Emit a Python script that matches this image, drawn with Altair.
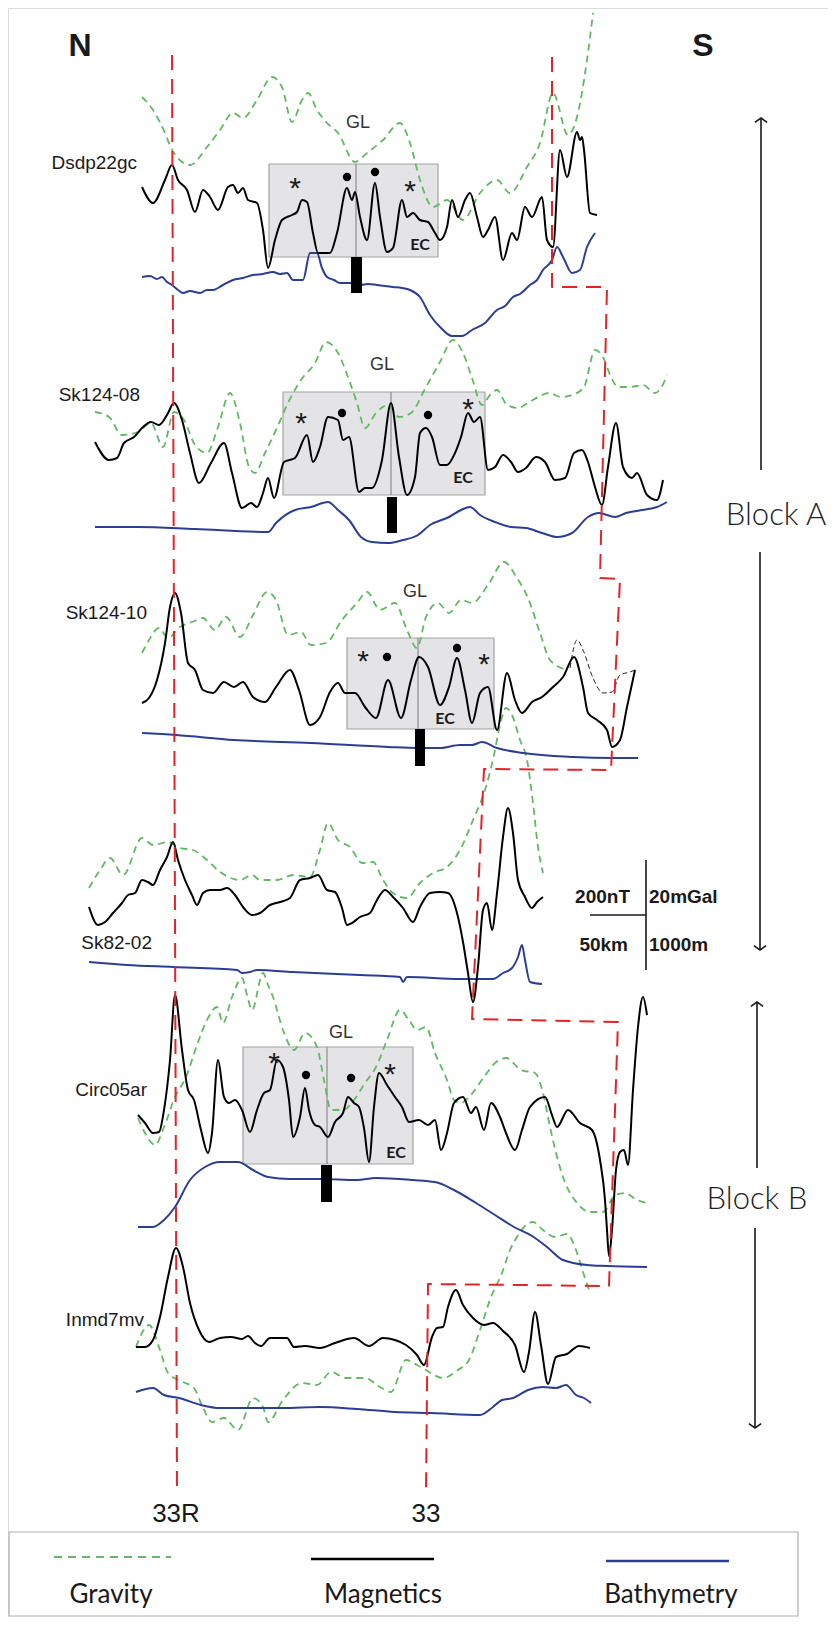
import altair as alt
import pandas as pd

# ------------------------------------------------------------------
# Profile traces: (distance along figure, anomaly)
# ------------------------------------------------------------------
P1_GRAV = [(142,97),(153,110),(165,133),(172,150),(190,165),(207,147),(220,130),(233,113),(243,118),
           (257,100),(272,77),(282,87),(292,122),(302,100),(308,93),(317,110),(327,123),(338,133),
           (355,162),(367,153),(383,140),(400,123),(410,143),(420,180),(433,207),(447,200),(463,220),
           (480,193),(497,180),(510,193),(527,167),(540,143),(553,93),(568,135),(577,117),(587,60),(593,13)]
P1_MAG = [(142,187),(153,203),(165,180),(172,165),(178,180),(187,190),(195,212),(203,190),(210,197),
          (218,210),(228,187),(233,185),(238,193),(243,188),(248,200),(257,203),(263,230),(268,268),
          (275,240),(282,220),(292,215),(297,212),(302,200),(307,202),(313,233),(318,253),(330,253),
          (337,233),(347,188),(352,200),(355,192),(360,217),(367,240),(375,183),(380,217),(387,252),
          (393,248),(402,200),(407,217),(413,213),(420,220),(428,222),(435,233),(440,240),(447,227),
          (452,200),(458,217),(465,200),(470,193),(477,217),(483,237),(488,230),(495,217),(503,260),
          (512,233),(517,240),(525,207),(532,217),(542,197),(547,240),(553,247),(560,150),(567,177),
          (577,132),(580,140),(582,137),(584,150),(590,213),(597,215)]
P1_BATH = [(142,277),(150,276),(157,279),(162,277),(167,282),(172,285),(178,290),(183,293),(190,291),
           (200,293),(207,290),(213,290),(223,285),(233,280),(243,278),(253,275),(263,274),(273,272),
           (280,274),(287,273),(293,280),(303,280),(310,253),(317,253),(322,268),(327,277),(334,280),
           (340,283),(350,283),(360,285),(368,284),(377,285),(385,286),(393,287),(402,288),(410,290),
           (420,297),(430,315),(441,328),(452,336),(462,336),(472,330),(485,323),(497,310),(505,306),
           (513,297),(520,294),(530,285),(537,280),(543,270),(552,260),(557,247),(563,257),(572,273),
           (580,270),(587,247),(595,233)]

P2_GRAV = [(95,412),(109,417),(122,435),(138,432),(151,423),(163,447),(174,412),(184,420),(195,445),
           (207,453),(218,427),(230,393),(240,423),(249,467),(255,473),(265,453),(276,430),(288,403),
           (301,380),(315,363),(326,342),(338,353),(349,380),(357,403),(365,428),(376,413),(388,405),
           (399,417),(411,413),(426,387),(440,362),(453,340),(463,353),(472,378),(482,405),(490,395),
           (497,390),(507,405),(518,408),(528,403),(538,397),(549,393),(561,397),(572,395),(584,387),
           (595,350),(603,357),(611,377),(618,387),(630,387),(643,385),(655,393),(661,388),(667,375)]
P2_MAG = [(95,442),(109,460),(117,458),(124,443),(134,437),(143,427),(151,422),(159,425),(167,415),
          (174,403),(182,420),(190,453),(199,483),(211,463),(224,443),(232,473),(242,508),(251,503),
          (257,507),(263,493),(268,478),(274,498),(284,462),(295,458),(307,435),(313,462),(320,447),
          (328,417),(338,420),(343,440),(349,437),(359,492),(365,488),(372,488),(382,460),(391,403),
          (399,457),(407,495),(415,477),(420,433),(426,428),(432,437),(440,465),(447,465),(455,453),
          (461,437),(468,413),(474,422),(480,417),(488,470),(495,467),(503,455),(511,462),(518,472),
          (526,468),(536,457),(545,462),(555,480),(565,478),(574,453),(582,450),(588,462),(595,487),
          (602,505),(608,467),(616,423),(623,467),(632,478),(637,473),(647,495),(657,500),(663,480)]
P2_BATH = [(95,527),(138,527),(195,529),(268,532),(276,523),(295,510),(311,507),(328,502),(338,510),
           (349,520),(361,537),(372,542),(388,543),(403,540),(418,535),(430,525),(449,517),(461,510),
           (470,507),(480,515),(495,522),(511,527),(526,528),(542,533),(557,537),(572,533),(588,517),
           (599,513),(615,517),(626,513),(642,510),(657,507),(667,502)]

P3_GRAV = [(142,653),(149,640),(159,628),(168,638),(180,627),(192,622),(203,618),(215,630),(226,617),
           (240,637),(253,615),(267,592),(276,600),(288,635),(301,632),(311,645),(326,643),(342,620),
           (357,603),(367,592),(380,610),(395,603),(407,630),(417,648),(426,617),(438,603),(449,613),
           (461,600),(472,603),(488,585),(504,562),(517,578),(528,598),(540,633),(550,660),(567,670)]
P3_MAG = [(142,703),(149,698),(157,680),(165,643),(170,607),(175,593),(181,613),(188,663),(195,670),
          (203,690),(213,693),(224,682),(234,687),(243,682),(253,697),(265,702),(276,687),(290,670),
          (299,690),(310,725),(320,717),(330,692),(338,683),(345,693),(355,693),(365,707),(376,718),
          (388,680),(401,718),(411,680),(419,657),(428,667),(440,705),(449,687),(457,658),(465,690),
          (472,723),(480,693),(488,687),(497,730),(507,673),(515,700),(522,713),(532,702),(542,697),
          (553,687),(563,677),(574,657),(583,687),(588,713),(597,720),(607,730),(612,747),(620,740),
          (627,707),(635,670)]
P3_MAG_ALT = [(570,668),(577,640),(583,650),(593,678),(603,693),(612,692),(620,675),(630,672),(635,670)]
P3_BATH = [(142,733),(176,735),(234,740),(311,743),(388,747),(418,748),(440,748),(460,745),(472,745),
           (482,742),(497,748),(523,753),(573,757),(613,758),(638,758)]

P4_GRAV = [(89,888),(100,870),(110,858),(123,875),(142,838),(153,845),(168,842),(180,848),(193,850),
           (207,860),(220,872),(240,880),(252,875),(260,880),(277,880),(293,875),(310,877),(320,850),
           (328,823),(338,840),(350,847),(362,863),(373,862),(383,880),(393,893),(407,898),(420,883),
           (433,873),(447,867),(460,850),(473,820),(485,790),(494,755),(500,725),(506,708),(512,715),
           (520,740),(527,760),(533,803),(538,847),(543,873)]
P4_MAG = [(89,907),(98,925),(105,922),(113,913),(122,903),(128,895),(135,893),(142,880),(148,882),
          (153,885),(160,870),(167,857),(173,842),(178,860),(185,880),(192,895),(197,905),(203,893),
          (210,890),(220,890),(227,888),(235,895),(243,907),(252,915),(260,913),(270,905),(280,902),
          (290,898),(300,880),(310,878),(318,875),(327,890),(335,892),(342,908),(347,925),(352,923),
          (360,917),(370,913),(377,900),(385,890),(393,897),(403,908),(413,922),(420,907),(430,893),
          (440,892),(448,893),(457,913),(463,942),(468,973),(473,1002),(478,967),(483,910),(487,903),
          (492,930),(497,893),(503,837),(508,808),(513,833),(518,880),(525,897),(532,908),(537,902),
          (543,897)]
P4_BATH = [(89,962),(127,965),(173,967),(237,970),(242,973),(250,972),(257,970),(293,972),(360,975),
           (400,977),(403,982),(407,977),(460,979),(493,979),(503,973),(512,968),(518,957),(522,945),
           (525,960),(530,982),(542,984)]

P5_GRAV = [(138,1118),(145,1133),(155,1145),(164,1127),(175,1097),(186,1077),(197,1045),(207,1020),
           (217,1007),(223,1023),(232,997),(242,978),(247,995),(252,1010),(263,973),(268,985),(273,997),
           (283,1030),(294,1050),(305,1033),(317,1047),(324,1080),(331,1110),(343,1110),(354,1100),
           (365,1083),(376,1067),(387,1040),(400,1010),(409,1020),(417,1030),(426,1027),(435,1053),
           (447,1080),(454,1100),(461,1103),(469,1097),(484,1077),(495,1063),(506,1058),(521,1070),
           (535,1073),(543,1093),(550,1127),(563,1177),(577,1203),(590,1212),(603,1212),(615,1195),
           (625,1193),(637,1200),(647,1203)]
P5_MAG = [(138,1115),(145,1123),(153,1133),(159,1132),(164,1110),(170,1060),(175,995),(182,1050),
          (188,1090),(194,1100),(201,1130),(208,1153),(212,1133),(218,1060),(224,1097),(229,1103),
          (235,1100),(242,1110),(250,1132),(257,1110),(264,1093),(270,1090),(277,1060),(283,1067),
          (289,1100),(293,1137),(300,1117),(305,1088),(309,1110),(315,1125),(320,1127),(328,1137),
          (335,1122),(343,1113),(348,1097),(354,1103),(359,1107),(364,1128),(369,1162),(374,1107),
          (379,1073),(387,1085),(395,1097),(402,1107),(409,1122),(419,1120),(428,1125),(435,1120),
          (441,1150),(447,1133),(454,1103),(463,1097),(471,1113),(476,1107),(484,1130),(491,1103),
          (500,1117),(506,1133),(515,1150),(522,1130),(530,1107),(545,1097),(552,1115),(557,1127),
          (568,1110),(580,1123),(592,1130),(600,1160),(605,1200),(607,1230),(609,1256),(612,1230),
          (616,1170),(620,1152),(624,1150),(628,1165),(633,1090),(638,1027),(643,997),(647,1015)]
P5_BATH = [(138,1227),(153,1227),(164,1220),(175,1207),(190,1180),(205,1167),(220,1162),(238,1162),
           (253,1170),(268,1177),(290,1179),(320,1179),(357,1180),(376,1178),(413,1180),(435,1182),
           (454,1190),(476,1203),(495,1215),(514,1227),(532,1236),(547,1247),(563,1260),(587,1265),
           (607,1266),(647,1267)]

P6_GRAV = [(136,1347),(149,1325),(160,1350),(168,1373),(183,1382),(194,1388),(201,1403),(212,1422),
           (224,1418),(238,1430),(253,1398),(263,1407),(268,1422),(283,1400),(302,1383),(317,1385),
           (331,1372),(346,1378),(365,1378),(380,1387),(391,1392),(406,1360),(417,1365),(426,1370),
           (443,1378),(458,1370),(469,1360),(480,1330),(491,1297),(502,1273),(510,1250),(517,1237),
           (526,1225),(533,1222),(543,1230),(555,1237),(567,1234),(576,1250),(583,1272),(590,1293)]
P6_MAG = [(136,1347),(145,1347),(153,1340),(160,1317),(168,1277),(176,1248),(183,1267),(190,1303),
          (199,1330),(209,1342),(220,1338),(231,1337),(242,1339),(248,1336),(255,1343),(261,1346),
          (270,1338),(279,1338),(287,1338),(294,1347),(305,1346),(320,1348),(335,1343),(354,1338),
          (369,1346),(383,1338),(395,1340),(406,1345),(417,1355),(424,1365),(432,1337),(437,1328),
          (443,1327),(448,1307),(456,1290),(463,1305),(473,1318),(484,1325),(493,1323),(503,1331),
          (515,1345),(524,1372),(529,1352),(535,1312),(541,1345),(548,1384),(556,1357),(567,1354),
          (579,1346),(590,1348)]
P6_BATH = [(136,1392),(153,1388),(164,1395),(179,1398),(201,1405),(220,1408),(283,1408),(320,1407),
           (357,1409),(395,1412),(432,1413),(480,1415),(493,1407),(502,1400),(513,1398),(528,1390),
           (543,1387),(556,1388),(566,1385),(576,1395),(584,1398),(591,1403)]

# chron picks (red dashed)
RED_33R = [(172,55),(177,1492)]
RED_33 = [(552,57),(552,287),(607,287),(600,578),(620,579),(611,770),(484,769),(472,1019),
          (618,1022),(609,1286),(428,1284),(426,1492)]

# profile names: (right edge, centre, text)
PROFILE_NAMES = [(137,163,"Dsdp22gc"),(140,395,"Sk124-08"),(147,613,"Sk124-10"),
                 (152,943,"Sk82-02"),(147,1090,"Circ05ar"),(144,1320,"Inmd7mv")]
# grey boxes: left, right, top, bottom, divider
BOXES = [(269,438,164,257,356),(283,485,392,495,391),(347,494,638,729,418),(243,413,1047,1164,327)]
# black bars: left, right, top, bottom
BARS = [(351,362,257,293),(387,397,497,533),(415,425,729,766),(321,332,1165,1202)]
GL_POS = [(358,123),(382,365),(415,592),(341,1033)]
EC_POS = [(420,245),(463,478),(445,719),(396,1153)]
STARS = [(295,182),(410,185),(301,417),(468,403),(363,655),(484,658),(274,1057),(390,1068)]
DOTS = [(347,177),(375,172),(342,413),(428,415),(387,657),(457,648),(306,1075),(351,1078)]

GREEN = "#63b863"
BLUE = "#2c3d94"
RED = "#e32427"

W, H = 820, 1609
X0, Y0 = 8, 8
xs = alt.Scale(domain=[X0, X0 + W])
ys = alt.Scale(domain=[Y0, Y0 + H], reverse=True)


def X(f="x"):
    return alt.X(f"{f}:Q", scale=xs, axis=None)


def Y(f="y"):
    return alt.Y(f"{f}:Q", scale=ys, axis=None)


series = {
    "p1g": ("grav", P1_GRAV), "p1m": ("mag", P1_MAG), "p1b": ("bath", P1_BATH),
    "p2g": ("grav", P2_GRAV), "p2m": ("mag", P2_MAG), "p2b": ("bath", P2_BATH),
    "p3g": ("grav", P3_GRAV), "p3m": ("mag", P3_MAG), "p3b": ("bath", P3_BATH),
    "p3a": ("alt", P3_MAG_ALT),
    "p4g": ("grav", P4_GRAV), "p4m": ("mag", P4_MAG), "p4b": ("bath", P4_BATH),
    "p5g": ("grav", P5_GRAV), "p5m": ("mag", P5_MAG), "p5b": ("bath", P5_BATH),
    "p6g": ("grav", P6_GRAV), "p6m": ("mag", P6_MAG), "p6b": ("bath", P6_BATH),
    "r33R": ("red", RED_33R), "r33": ("red", RED_33),
}
rows = []
for name, (kind, pts) in series.items():
    for i, (x, y) in enumerate(pts):
        rows.append({"series": name, "kind": kind, "i": i, "x": x, "y": y})
lines_df = pd.DataFrame(rows)


def line_layer(kind, **style):
    return alt.Chart(lines_df).transform_filter(alt.datum.kind == kind).mark_line(
        strokeJoin="round", strokeCap="butt", **style
    ).encode(x=X(), y=Y(), detail="series:N", order="i:Q")


boxes_df = pd.DataFrame([{"x": a, "x2": b, "y": c, "y2": d, "xd": e} for a, b, c, d, e in BOXES])
bars_df = pd.DataFrame([{"x": a, "x2": b, "y": c, "y2": d} for a, b, c, d in BARS])

boxes = alt.Chart(boxes_df).mark_rect(fill="#e4e4e6", stroke="#a3a3a3", strokeWidth=1.2).encode(
    x=X("x"), x2="x2", y=Y("y"), y2="y2")
dividers = alt.Chart(boxes_df).mark_rule(color="#8c8c8c", strokeWidth=1.2).encode(
    x=X("xd"), y=Y("y"), y2="y2")
bars = alt.Chart(bars_df).mark_rect(fill="black").encode(x=X("x"), x2="x2", y=Y("y"), y2="y2")


def text_layer(items, **style):
    df = pd.DataFrame([{"x": a, "y": b, "t": c} for a, b, c in items])
    return alt.Chart(df).mark_text(**style).encode(x=X(), y=Y(), text="t:N")


names = text_layer(PROFILE_NAMES, align="right", baseline="middle", font="Liberation Sans",
                   fontSize=19, color="#1a1a1a")
gl = text_layer([(x, y, "GL") for x, y in GL_POS], align="center", baseline="middle",
                font="Liberation Sans", fontSize=18, color="#333333")
ec = text_layer([(x, y, "EC") for x, y in EC_POS], align="center", baseline="middle",
                font="Lato", fontSize=16, fontWeight="bold", color="#1a1a1a")
stars = text_layer([(x, y, "*") for x, y in STARS], align="center", baseline="middle",
                   font="Liberation Sans", fontSize=30, dy=7, color="#1a1a1a")
dots = alt.Chart(pd.DataFrame([{"x": a, "y": b} for a, b in DOTS])).mark_point(
    shape="circle", filled=True, size=70, color="black", opacity=1).encode(x=X(), y=Y())

ns = text_layer([(80, 46, "N"), (703, 46, "S")], align="center", baseline="middle",
                font="Liberation Sans", fontSize=32, fontWeight="bold", color="#1a1a1a")
blocks = text_layer([(776, 516, "Block A"), (757, 1200, "Block B")], align="center",
                    baseline="middle", font="Lato", fontSize=31, fontWeight=300, color="#222222")
chrons = text_layer([(176, 1514, "33R"), (426, 1514, "33")], align="center", baseline="middle",
                    font="Liberation Sans", fontSize=26, color="#1a1a1a")
scale_left = text_layer([(630, 897, "200nT"), (628, 945, "50km")], align="right", baseline="middle",
                        font="Liberation Sans", fontSize=19, fontWeight="bold", color="#1a1a1a")
scale_right = text_layer([(649, 897, "20mGal"), (649, 945, "1000m")], align="left", baseline="middle",
                         font="Liberation Sans", fontSize=19, fontWeight="bold", color="#1a1a1a")
legend_txt = text_layer([(111, 1595, "Gravity"), (383, 1595, "Magnetics"), (671, 1595, "Bathymetry")],
                        align="center", baseline="middle", font="Lato", fontSize=26, color="#1a1a1a")

# scale bar, arrows, legend frame
vrules = alt.Chart(pd.DataFrame([
    {"x": 646, "y": 860, "y2": 970},
    {"x": 761, "y": 118, "y2": 470}, {"x": 760, "y": 552, "y2": 950},
    {"x": 757, "y": 1002, "y2": 1168}, {"x": 755, "y": 1228, "y2": 1428},
])).mark_rule(color="#1a1a1a", strokeWidth=1.6).encode(x=X(), y=Y(), y2="y2")
hrule = alt.Chart(pd.DataFrame([{"x": 590, "x2": 646, "y": 915}])).mark_rule(
    color="#1a1a1a", strokeWidth=1.6).encode(x=X(), x2="x2", y=Y())
heads_up = alt.Chart(pd.DataFrame([{"x": 761, "y": 118}, {"x": 757, "y": 1002}])).mark_point(
    shape="M-1,0.7L0,0L1,0.7", filled=False, size=150, color="#1a1a1a", strokeWidth=1.6,
    opacity=1).encode(x=X(), y=Y())
heads_down = alt.Chart(pd.DataFrame([{"x": 760, "y": 950}, {"x": 755, "y": 1428}])).mark_point(
    shape="M-1,-0.7L0,0L1,-0.7", filled=False, size=150, color="#1a1a1a", strokeWidth=1.6,
    opacity=1).encode(x=X(), y=Y())

legend_box = alt.Chart(pd.DataFrame([{"x": 9, "x2": 798, "y": 1532, "y2": 1616}])).mark_rect(
    fill="white", stroke="#b0b0b0", strokeWidth=1.2).encode(x=X(), x2="x2", y=Y(), y2="y2")
leg_df = pd.DataFrame([
    {"k": "grav", "x": 54, "x2": 171, "y": 1557},
    {"k": "mag", "x": 311, "x2": 434, "y": 1559},
    {"k": "bath", "x": 606, "x2": 729, "y": 1561},
])
leg_g = alt.Chart(leg_df).transform_filter(alt.datum.k == "grav").mark_rule(
    color=GREEN, strokeWidth=2.2, strokeDash=[8, 6]).encode(x=X(), x2="x2", y=Y())
leg_m = alt.Chart(leg_df).transform_filter(alt.datum.k == "mag").mark_rule(
    color="black", strokeWidth=2.4).encode(x=X(), x2="x2", y=Y())
leg_b = alt.Chart(leg_df).transform_filter(alt.datum.k == "bath").mark_rule(
    color=BLUE, strokeWidth=2.4).encode(x=X(), x2="x2", y=Y())

chart = alt.layer(
    boxes, dividers,
    line_layer("grav", color=GREEN, strokeWidth=1.8, strokeDash=[7, 5], interpolate="monotone"),
    line_layer("bath", color=BLUE, strokeWidth=2.0, interpolate="monotone"),
    line_layer("alt", color="#222222", strokeWidth=1.0, strokeDash=[5, 3], interpolate="monotone"),
    line_layer("mag", color="black", strokeWidth=2.0, interpolate="monotone"),
    bars,
    line_layer("red", color=RED, strokeWidth=2.0, strokeDash=[15, 9]),
    names, gl, ec, stars, dots, ns, blocks, chrons, scale_left, scale_right,
    vrules, hrule, heads_up, heads_down,
    legend_box, leg_g, leg_m, leg_b, legend_txt,
).properties(
    width=W, height=H, padding=0, autosize=alt.AutoSizeParams(type="none")
).configure_view(stroke=None).configure(background="white")

chart.save("out.html", embed_options={"renderer": "svg", "actions": False})
